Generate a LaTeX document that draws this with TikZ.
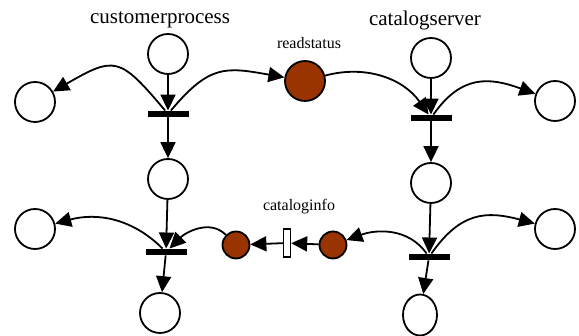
\documentclass[tikz,border=0pt]{standalone}
\usepackage{fontspec}
\setmainfont{Liberation Serif}
\usetikzlibrary{arrows.meta,shapes.geometric}

\definecolor{tokenred}{RGB}{153,51,0}

\tikzset{
	place/.style={circle, draw, line width=1.8pt, fill=white, minimum size=40pt, inner sep=0pt},
	oval/.style={ellipse, draw, line width=1.8pt, fill=white, minimum width=34pt, minimum height=41pt, inner sep=0pt},
	token/.style={circle, draw, line width=1.8pt, fill=tokenred, minimum size=27pt, inner sep=0pt},
	trans/.style={rectangle, fill=black, minimum width=41pt, minimum height=6.5pt, inner sep=0pt},
	gate/.style={rectangle, draw, line width=1.3pt, fill=white, minimum width=7pt, minimum height=28pt, inner sep=0pt},
	arc/.style={line width=1.8pt, -{Triangle[length=16pt, width=15pt]}},
	title/.style={font=\fontsize{21}{24}\selectfont, inner sep=0pt},
	tag/.style={font=\fontsize{16}{18}\selectfont, inner sep=0pt}
}

\begin{document}
\begin{tikzpicture}[x=1pt, y=1pt]

\path [use as bounding box] (0,0) rectangle (579,336);

% NAMES
\node [title] (cpname) at (160,316) {customerprocess};
\node [title] (csname) at (425,316) {catalogserver};
\node [tag] (rsname) at (309,293) {readstatus};
\node [tag] (ciname) at (299,129) {cataloginfo};

% PLACES
\node [place] (lp0) at (168,282) {};
\node [place] (lp1) at (35,234) {};
\node [place] (lp2) at (168,157) {};
\node [place] (lp3) at (35,107) {};
\node [place] (lp4) at (160,23) {};

\node [place] (rp0) at (431,278) {};
\node [place] (rp1) at (555,235) {};
\node [place] (rp2) at (431,153) {};
\node [place] (rp3) at (555,107) {};
\node [oval] (rp4) at (420,21) {};

\node [place, fill=tokenred] (rs) at (305,255) {};
\node [token] (cl) at (236,91) {};
\node [token] (cr) at (333,91) {};
\node [gate] (buf) at (287,93) {};

% TRANSITIONS
\node [trans] (lt1) at (168,222) {};
\node [trans] (lt2) at (166,84) {};
\node [trans] (rt1) at (431,218) {};
\node [trans] (rt2) at (429,79) {};

% ARCS
\draw [arc] (lp0) -- (lt1);
\draw [arc] (lt1) to[out=130, in=30, looseness=1.6] (lp1);
\draw [arc] (lt1) to[out=50, in=170, looseness=1.3] (rs);
\draw [arc] (lt1) -- (lp2);
\draw [arc] (lp2) -- (lt2);
\draw [arc] (lt2) to[out=135, in=15] (lp3);
\draw [arc] (lt2) -- (lp4);
\draw [arc] (cl) to[out=135, in=45] (lt2);
\draw [arc] (cr) -- (buf);
\draw [arc] (buf) -- (cl);

\draw [arc] (rs) to[out=15, in=125] (rt1);
\draw [arc] (rp0) -- (rt1);
\draw [arc] (rt1) to[out=55, in=160, looseness=1.2] (rp1);
\draw [arc] (rt1) -- (rp2);
\draw [arc] (rp2) -- (rt2);
\draw [arc] (rt2) to[out=55, in=165, looseness=1.2] (rp3);
\draw [arc] (rt2) to[out=125, in=20] (cr);
\draw [arc] (rt2) -- (rp4);

\end{tikzpicture}
\end{document}
